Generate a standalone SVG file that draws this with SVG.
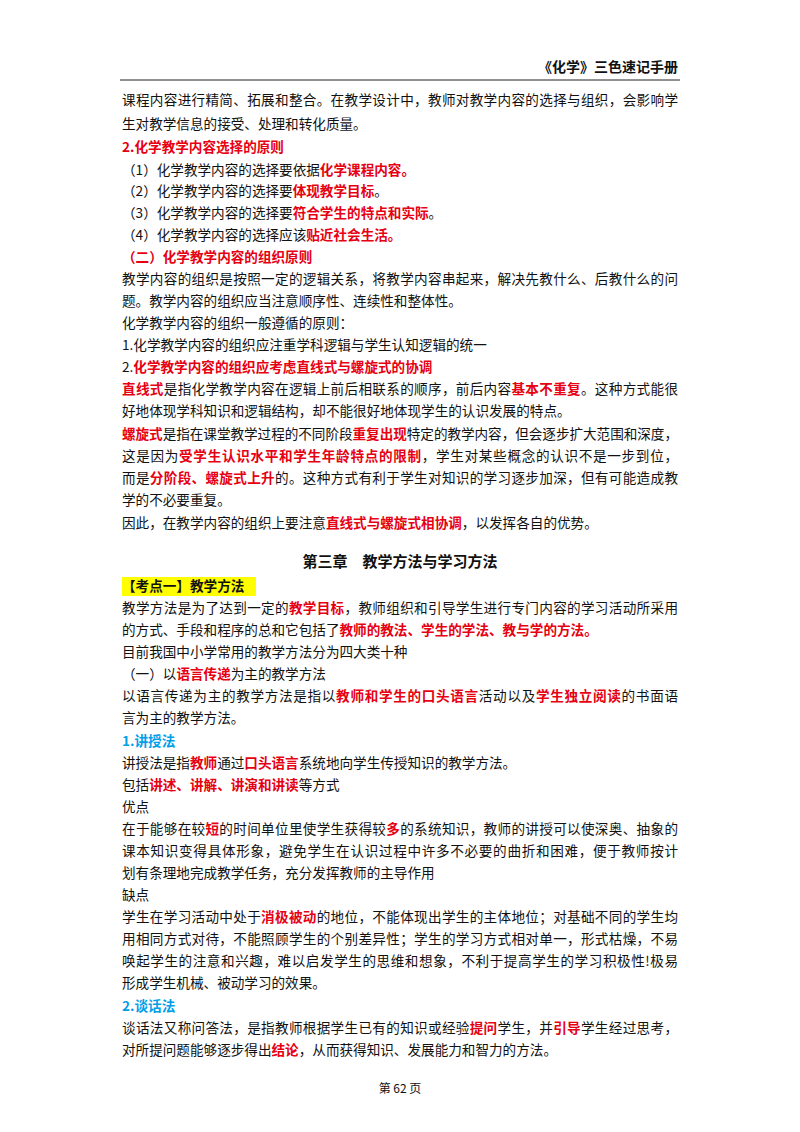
<svg xmlns="http://www.w3.org/2000/svg" width="800" height="1132" viewBox="0 0 800 1132">
<style>
text{font-family:"Noto Sans CJK SC","Liberation Sans",sans-serif;font-size:13.6px;fill:#111}
.r{fill:#e60012;font-weight:bold}
.b{fill:#00a0e9;font-weight:bold}
.h{font-weight:bold}
</style>
<rect width="800" height="1132" fill="#fff"/>
<g id="header">
<text x="678" y="72" text-anchor="end" class="h" style="font-size:14px">《化学》三色速记手册</text>
<line x1="120" y1="80" x2="680" y2="80" stroke="#222" stroke-width="1"/>
</g>
<g id="body">
<text x="122" y="105" textLength="556" lengthAdjust="spacing">课程内容进行精简、拓展和整合。在教学设计中，教师对教学内容的选择与组织，会影响学</text>
<text x="122" y="129">生对教学信息的接受、处理和转化质量。</text>
<text x="122" y="152" class="r">2.化学教学内容选择的原则</text>
<text x="122" y="175">（1）化学教学内容的选择要依据<tspan class="r">化学课程内容。</tspan></text>
<text x="122" y="196">（2）化学教学内容的选择要<tspan class="r">体现教学目标</tspan>。</text>
<text x="122" y="218">（3）化学教学内容的选择要<tspan class="r">符合学生的特点和实际</tspan>。</text>
<text x="122" y="240">（4）化学教学内容的选择应该<tspan class="r">贴近社会生活。</tspan></text>
<text x="122" y="262" class="r">（二）化学教学内容的组织原则</text>
<text x="122" y="284" textLength="556" lengthAdjust="spacing">教学内容的组织是按照一定的逻辑关系，将教学内容串起来，解决先教什么、后教什么的问</text>
<text x="122" y="306">题。教学内容的组织应当注意顺序性、连续性和整体性。</text>
<text x="122" y="328">化学教学内容的组织一般遵循的原则：</text>
<text x="122" y="350">1.化学教学内容的组织应注重学科逻辑与学生认知逻辑的统一</text>
<text x="122" y="372">2.<tspan class="r">化学教学内容的组织应考虑直线式与螺旋式的协调</tspan></text>
<text x="122" y="394" textLength="556" lengthAdjust="spacing"><tspan class="r">直线式</tspan>是指化学教学内容在逻辑上前后相联系的顺序，前后内容<tspan class="r">基本不重复</tspan>。这种方式能很</text>
<text x="122" y="416">好地体现学科知识和逻辑结构，却不能很好地体现学生的认识发展的特点。</text>
<text x="122" y="439" textLength="556" lengthAdjust="spacing"><tspan class="r">螺旋式</tspan>是指在课堂教学过程的不同阶段<tspan class="r">重复出现</tspan>特定的教学内容，但会逐步扩大范围和深度，</text>
<text x="122" y="461" textLength="556" lengthAdjust="spacing">这是因为<tspan class="r">受学生认识水平和学生年龄特点的限制</tspan>，学生对某些概念的认识不是一步到位，</text>
<text x="122" y="483" textLength="556" lengthAdjust="spacing">而是<tspan class="r">分阶段、螺旋式上升</tspan>的。这种方式有利于学生对知识的学习逐步加深，但有可能造成教</text>
<text x="122" y="505">学的不必要重复。</text>
<text x="122" y="528">因此，在教学内容的组织上要注意<tspan class="r">直线式与螺旋式相协调</tspan>，以发挥各自的优势。</text>
<text x="400" y="567" text-anchor="middle" class="h" style="font-size:15px">第三章　教学方法与学习方法</text>
<rect x="122" y="577" width="134" height="19" fill="#ffff00"/>
<text x="122" y="591" class="h">【考点一】教学方法</text>
<text x="122" y="613" textLength="556" lengthAdjust="spacing">教学方法是为了达到一定的<tspan class="r">教学目标</tspan>，教师组织和引导学生进行专门内容的学习活动所采用</text>
<text x="122" y="635">的方式、手段和程序的总和它包括了<tspan class="r">教师的教法、学生的学法、教与学的方法。</tspan></text>
<text x="122" y="657">目前我国中小学常用的教学方法分为四大类十种</text>
<text x="122" y="679">（一）以<tspan class="r">语言传递</tspan>为主的教学方法</text>
<text x="122" y="701" textLength="556" lengthAdjust="spacing">以语言传递为主的教学方法是指以<tspan class="r">教师和学生的口头语言</tspan>活动以及<tspan class="r">学生独立阅读</tspan>的书面语</text>
<text x="122" y="723">言为主的教学方法。</text>
<text x="122" y="746" class="b">1.讲授法</text>
<text x="122" y="768">讲授法是指<tspan class="r">教师</tspan>通过<tspan class="r">口头语言</tspan>系统地向学生传授知识的教学方法。</text>
<text x="122" y="790">包括<tspan class="r">讲述、讲解、讲演和讲读</tspan>等方式</text>
<text x="122" y="812">优点</text>
<text x="122" y="834" textLength="556" lengthAdjust="spacing">在于能够在较<tspan class="r">短</tspan>的时间单位里使学生获得较<tspan class="r">多</tspan>的系统知识，教师的讲授可以使深奥、抽象的</text>
<text x="122" y="856" textLength="556" lengthAdjust="spacing">课本知识变得具体形象，避免学生在认识过程中许多不必要的曲折和困难，便于教师按计</text>
<text x="122" y="878">划有条理地完成教学任务，充分发挥教师的主导作用</text>
<text x="122" y="900">缺点</text>
<text x="122" y="922" textLength="556" lengthAdjust="spacing">学生在学习活动中处于<tspan class="r">消极被动</tspan>的地位，不能体现出学生的主体地位；对基础不同的学生均</text>
<text x="122" y="944" textLength="556" lengthAdjust="spacing">用相同方式对待，不能照顾学生的个别差异性；学生的学习方式相对单一，形式枯燥，不易</text>
<text x="122" y="966" textLength="556" lengthAdjust="spacing">唤起学生的注意和兴趣，难以启发学生的思维和想象，不利于提高学生的学习积极性!极易</text>
<text x="122" y="988">形成学生机械、被动学习的效果。</text>
<text x="122" y="1011" class="b">2.谈话法</text>
<text x="122" y="1033" textLength="556" lengthAdjust="spacing">谈话法又称问答法，是指教师根据学生已有的知识或经验<tspan class="r">提问</tspan>学生，并<tspan class="r">引导</tspan>学生经过思考，</text>
<text x="122" y="1055">对所提问题能够逐步得出<tspan class="r">结论</tspan>，从而获得知识、发展能力和智力的方法。</text>
</g>
<g id="footer">
<text x="400" y="1093" text-anchor="middle" style="font-size:12px">第&#160;62&#160;页</text>
</g>
</svg>
